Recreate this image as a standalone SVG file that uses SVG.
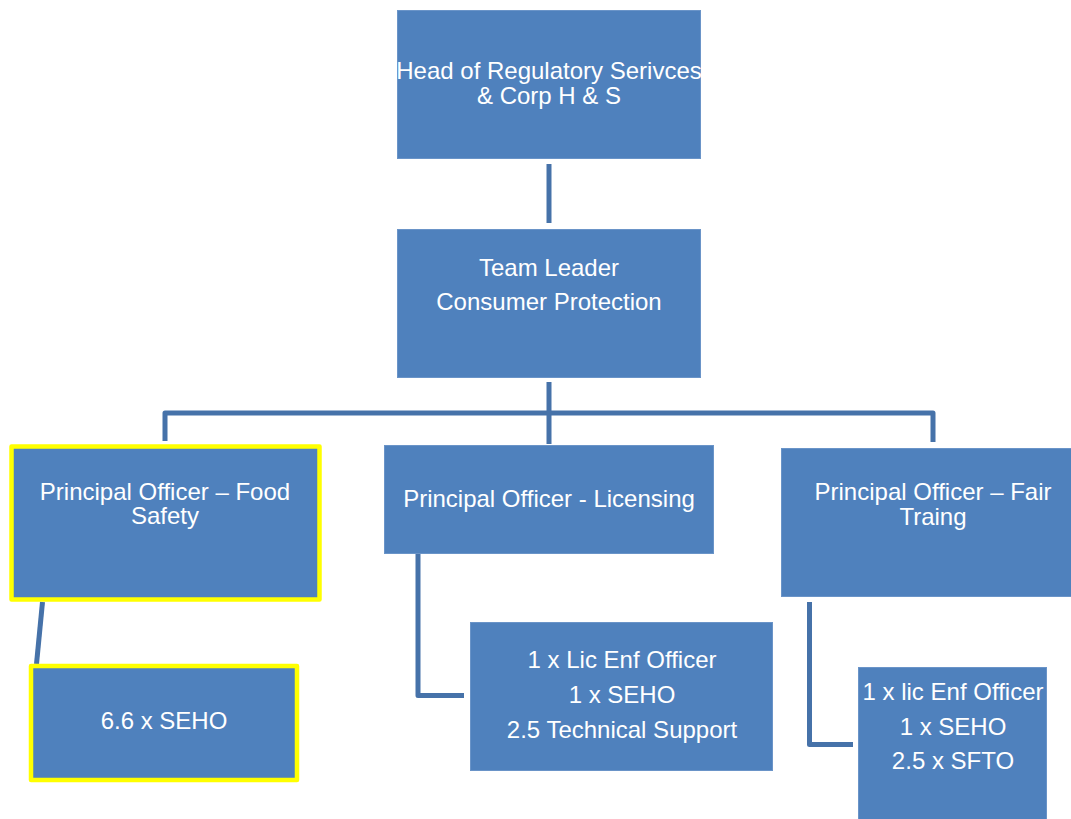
<svg xmlns="http://www.w3.org/2000/svg" width="1071" height="819" viewBox="0 0 1071 819">
<style>
.box{fill:#4F81BD;stroke:#6A94C8;stroke-width:1}
.hl{fill:#4F81BD;stroke:#FFFF00;stroke-width:4.5;stroke-linejoin:round}
.lbl{font-family:"Liberation Sans",Arial,sans-serif;font-size:24px;fill:#FFFFFF;text-anchor:middle}
.con{fill:none;stroke:#4672A9;stroke-width:5;stroke-linejoin:round}
</style>
<rect width="1071" height="819" fill="#FFFFFF"/>
<g id="connectors">
<line class="con" x1="549" y1="164" x2="549" y2="223"/>
<path class="con" d="M549 382 V444 M165 441 V413 H933 V442"/>
<line class="con" x1="42.5" y1="602" x2="36.5" y2="664"/>
<path class="con" d="M418 554 V695.5 H464"/>
<path class="con" d="M809.5 602 V744.5 H853"/>
</g>
<g id="head">
<rect class="box" x="397.5" y="10.5" width="303" height="148"/>
<text class="lbl" x="549" y="79">Head of Regulatory Serivces</text>
<text class="lbl" x="549" y="104">&amp; Corp H &amp; S</text>
</g>
<g id="teamleader">
<rect class="box" x="397.5" y="229.5" width="303" height="148"/>
<text class="lbl" x="549" y="276">Team Leader</text>
<text class="lbl" x="549" y="310">Consumer Protection</text>
</g>
<g id="food">
<rect class="hl" x="11.5" y="446.5" width="308" height="153"/>
<text class="lbl" x="165" y="500">Principal Officer – Food</text>
<text class="lbl" x="165" y="524">Safety</text>
</g>
<g id="seho">
<rect class="hl" x="31" y="666" width="266" height="114"/>
<text class="lbl" x="164" y="729">6.6 x SEHO</text>
</g>
<g id="licensing">
<rect class="box" x="384.5" y="445.5" width="329" height="108"/>
<text class="lbl" x="549" y="507">Principal Officer - Licensing</text>
</g>
<g id="licsub">
<rect class="box" x="470.5" y="622.5" width="302" height="148"/>
<text class="lbl" x="622" y="668">1 x Lic Enf Officer</text>
<text class="lbl" x="622" y="703">1 x SEHO</text>
<text class="lbl" x="622" y="738">2.5 Technical Support</text>
</g>
<g id="fair">
<rect class="box" x="781.5" y="448.5" width="300" height="148"/>
<text class="lbl" x="933" y="500">Principal Officer – Fair</text>
<text class="lbl" x="933" y="525">Traing</text>
</g>
<g id="fairsub">
<rect class="box" x="858.5" y="667.5" width="188" height="160"/>
<text class="lbl" x="953" y="700">1 x lic Enf Officer</text>
<text class="lbl" x="953" y="735">1 x SEHO</text>
<text class="lbl" x="953" y="769">2.5 x SFTO</text>
</g>
</svg>
